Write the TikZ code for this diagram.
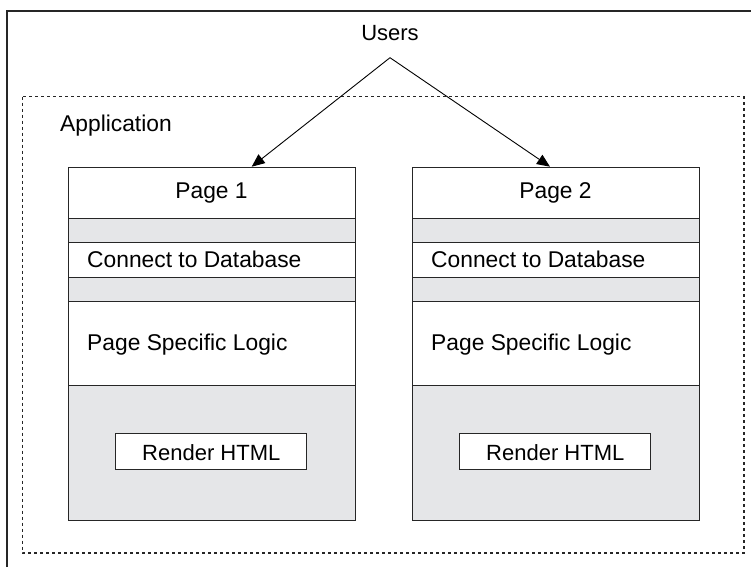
\documentclass[tikz,border=0pt]{standalone}
\usepackage{fontspec}
\setmainfont{Liberation Sans}
\usetikzlibrary{arrows.meta}
\definecolor{bandgray}{HTML}{E5E6E8}
\tikzset{
  row/.style={draw=black!85, line width=1.2pt, anchor=north west, inner sep=0pt, minimum width=287pt},
  lbl/.style={font=\fontsize{22.8}{26}\selectfont, inner sep=0pt},
  slbl/.style={font=\fontsize{22}{26}\selectfont, inner sep=0pt},
  renderbox/.style={draw=black!85, fill=white, line width=1.2pt, inner sep=0pt, minimum width=191pt, minimum height=36pt},
  framebox/.style={draw=black!85, line width=1.3pt},
  appbox/.style={draw=black!85, line width=1.3pt, dash pattern=on 3pt off 3pt},
  conn/.style={draw=black, line width=0.9pt, -{Triangle[length=13pt,width=11pt]}}
}
\newcommand\mypagecol[3]{%
  \node[row, fill=white, minimum height=51pt] (#3t) at (#1,166.7) {};
  \node[row, fill=bandgray, minimum height=24pt] (#3g1) at (#1,217.7) {};
  \node[row, fill=white, minimum height=35pt] (#3c) at (#1,241.7) {};
  \node[row, fill=bandgray, minimum height=24pt] (#3g2) at (#1,276.7) {};
  \node[row, fill=white, minimum height=84.3pt] (#3l) at (#1,300.7) {};
  \node[row, fill=bandgray, minimum height=135pt] (#3b) at (#1,385) {};
  \node[lbl, anchor=base] (#3title) at (#1+143.5,198.3) {#2};
  \node[lbl, anchor=base west] (#3conntxt) at (#1+19,267.3) {Connect to Database};
  \node[lbl, anchor=base west] (#3logictxt) at (#1+19,350.3) {Page Specific Logic};
  \node[renderbox] (#3render) at (#1+143.3,451.3) {};
  \node[slbl, anchor=base] (#3rendertxt) at (#1+143.3,460) {Render HTML};
}
\begin{document}
\begin{tikzpicture}[x=1pt, y=-1pt]
  \useasboundingbox (0,0) rectangle (751,567);
  % outer frame (cut off at right and bottom)
  \draw[framebox] (7,567) -- (7,11) -- (751,11);
  % application boundary
  \draw[appbox] (22.7,96.7) rectangle (744,553);
  \node[lbl, anchor=base west] (app) at (60,131.5) {Application};
  % pages
  \mypagecol{68}{Page 1}{pa}
  \mypagecol{412}{Page 2}{pb}
  % users and arrows
  \node[slbl, anchor=base] (users) at (390,41) {Users};
  \coordinate (apex) at (390,57.7);
  \coordinate (tipa) at (251.7,166.7);
  \coordinate (tipb) at (550,166.7);
  \draw[conn] (apex) -- (tipa);
  \draw[conn] (apex) -- (tipb);
\end{tikzpicture}
\end{document}
